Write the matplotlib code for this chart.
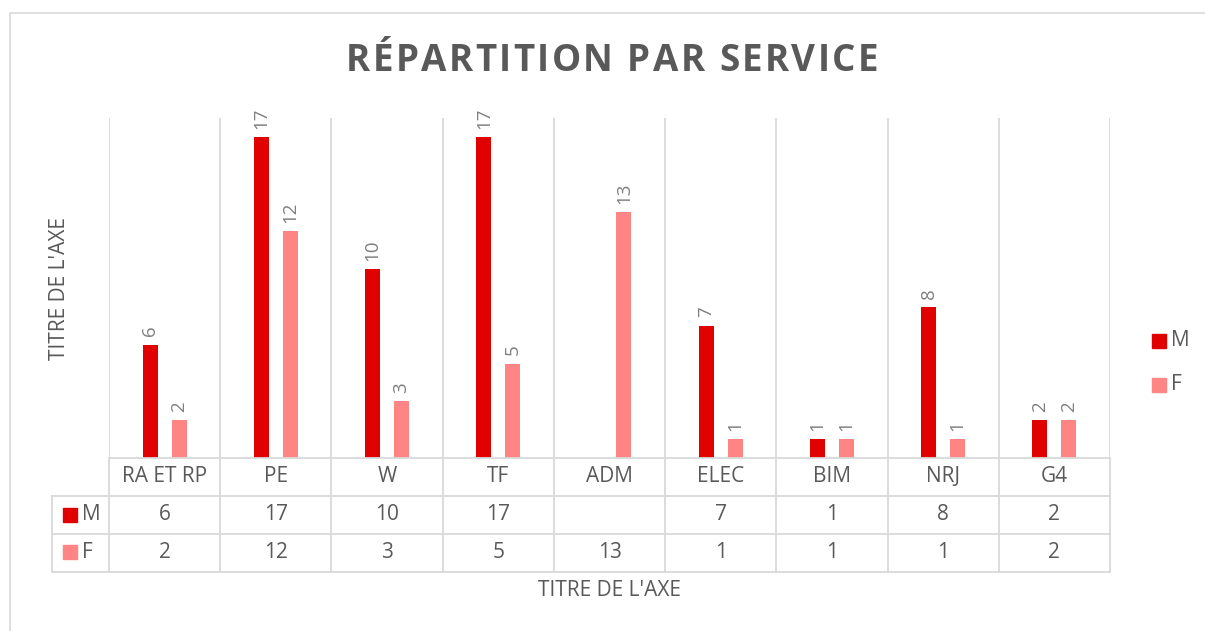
import numpy as np
import matplotlib.pyplot as plt
from matplotlib.patches import Rectangle
from matplotlib.lines import Line2D
from matplotlib.font_manager import FontProperties

services = ['RA ET RP', 'PE', 'W', 'TF', 'ADM', 'ELEC', 'BIM', 'NRJ', 'G4']
m_vals = [6, 17, 10, 17, np.nan, 7, 1, 8, 2]
f_vals = [2, 12, 3, 5, 13, 1, 1, 1, 2]
series = ['M', 'F']
colors = ['#e00000', '#ff8585']
title = 'RÉPARTITION PAR SERVICE'

W, H = 1205, 631
grid_c = '#d9d9d9'
txt_c = '#595959'
lab_c = '#7f7f7f'
fs = 15
plt.rcParams['font.family'] = ['Open Sans', 'DejaVu Sans']

fig = plt.figure(figsize=(W / 100, H / 100), dpi=100)


def fx(px):
    return px / W


def fy(py):
    return 1 - py / H


# outer frame (only top and left edges visible)
fig.lines.append(Line2D([fx(10), fx(10), fx(1205)], [fy(631), fy(13), fy(13)],
                        transform=fig.transFigure, color=grid_c, lw=1.2))

# plot area
x0, x1, ytop, ybot = 109, 1110, 118, 458
ax = fig.add_axes([fx(x0), fy(ybot), fx(x1) - fx(x0), fy(ytop) - fy(ybot)])
ax.set_xlim(-0.5, len(services) - 0.5)
ax.set_ylim(0, 18)
ax.axis('off')

x = np.arange(len(services))
bw = 0.135
for i, (vals, c) in enumerate(zip([m_vals, f_vals], colors)):
    xs = x + (i - 0.5) * 0.26
    ax.bar(xs, vals, width=bw, color=c, zorder=3)
    for xi, v in zip(xs, vals):
        if np.isnan(v):
            continue
        ax.annotate(str(int(v)), (xi, v), xytext=(0, 6), textcoords='offset points',
                    rotation=90, ha='center', va='bottom', fontsize=13.5, color=lab_c)

for b in np.arange(len(services) + 1) - 0.5:
    ax.axvline(b, color=grid_c, lw=1.3, zorder=1)

# data table
tb = fig.add_axes([fx(x0), fy(572), fx(x1) - fx(x0), fy(458) - fy(572)])
tb.set_xlim(-0.5, len(services) - 0.5)
tb.set_ylim(0, 3)
tb.axis('off')
left = -0.5 - 57 / 111.2
kw = dict(color=grid_c, lw=1.3, clip_on=False)
tb.plot([-0.5, len(services) - 0.5], [3, 3], **kw)
for yy in [2, 1, 0]:
    tb.plot([left, len(services) - 0.5], [yy, yy], **kw)
tb.plot([left, left], [0, 2], **kw)
for b in np.arange(len(services) + 1) - 0.5:
    tb.plot([b, b], [0, 3], **kw)

for i, s in enumerate(services):
    tb.text(i, 2.5, s, ha='center', va='center', fontsize=fs, color=txt_c)
    for r, vals in enumerate([m_vals, f_vals]):
        v = vals[i]
        if not np.isnan(v):
            tb.text(i, 1.5 - r, str(int(v)), ha='center', va='center', fontsize=fs, color=txt_c)

for r, (s, c) in enumerate(zip(series, colors)):
    cy = 515 + r * 37
    fig.patches.append(Rectangle((fx(63), fy(cy + 7)), fx(14), 14 / H,
                                 transform=fig.transFigure, color=c))
    fig.text(fx(82), fy(cy), s, ha='left', va='center', fontsize=fs, color=txt_c)

# legend
for r, (s, c) in enumerate(zip(series, colors)):
    cy = 341 + r * 44
    fig.patches.append(Rectangle((fx(1152), fy(cy + 7)), fx(14), 14 / H,
                                 transform=fig.transFigure, color=c))
    fig.text(fx(1171), fy(cy), s, ha='left', va='center', fontsize=fs, color=txt_c)

# title with letter spacing
prop = FontProperties(family=['Open Sans', 'DejaVu Sans'], weight='bold', size=26.5)
rend = fig.canvas.get_renderer()
widths = [rend.get_text_width_height_descent(ch, prop, ismath=False)[0] for ch in title]
gap = 2.4
total = sum(widths) + gap * (len(title) - 1)
cx = 612 - total / 2
for ch, w in zip(title, widths):
    fig.text(fx(cx), fy(61), ch, ha='left', va='center', fontproperties=prop, color=txt_c)
    cx += w + gap

fig.text(fx(610), fy(590), "TITRE DE L'AXE", ha='center', va='center', fontsize=fs, color=txt_c)
fig.text(fx(60), fy(288), "TITRE DE L'AXE", ha='center', va='center', rotation=90,
         fontsize=fs, color=txt_c)

fig.savefig('out.png', dpi=100)
